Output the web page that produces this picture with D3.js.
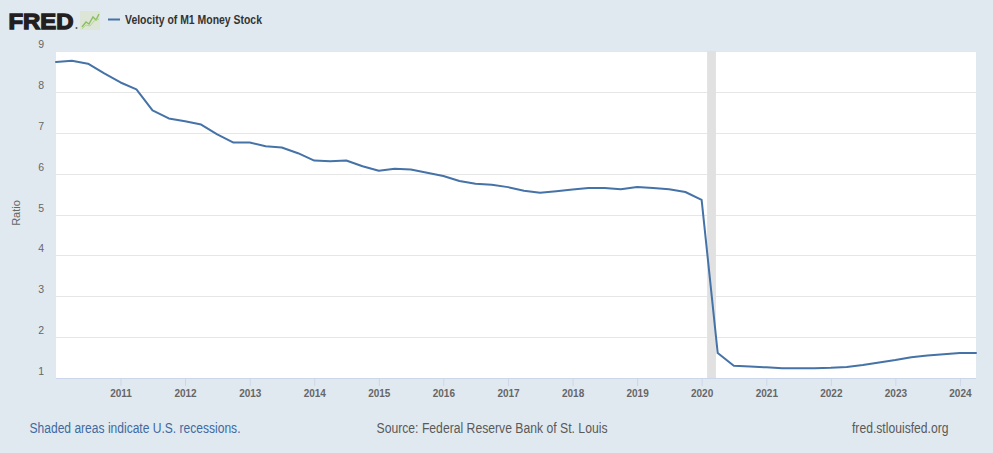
<!DOCTYPE html>
<html><head><meta charset="utf-8">
<script src="https://cdn.jsdelivr.net/npm/d3@7"></script>
<style>html,body{margin:0;padding:0;background:#e1e9f0;} svg{display:block;font-family:"Liberation Sans",Arial,sans-serif;}</style>
</head><body><svg id="c" width="993" height="453"></svg>
<script>
const quarters = [
"2010-01-01","2010-04-01","2010-07-01","2010-10-01",
"2011-01-01","2011-04-01","2011-07-01","2011-10-01",
"2012-01-01","2012-04-01","2012-07-01","2012-10-01",
"2013-01-01","2013-04-01","2013-07-01","2013-10-01",
"2014-01-01","2014-04-01","2014-07-01","2014-10-01",
"2015-01-01","2015-04-01","2015-07-01","2015-10-01",
"2016-01-01","2016-04-01","2016-07-01","2016-10-01",
"2017-01-01","2017-04-01","2017-07-01","2017-10-01",
"2018-01-01","2018-04-01","2018-07-01","2018-10-01",
"2019-01-01","2019-04-01","2019-07-01","2019-10-01",
"2020-01-01","2020-04-01","2020-07-01","2020-10-01",
"2021-01-01","2021-04-01","2021-07-01","2021-10-01",
"2022-01-01","2022-04-01","2022-07-01","2022-10-01",
"2023-01-01","2023-04-01","2023-07-01","2023-10-01",
"2024-01-01","2024-04-01"];
const velocity = [
8.73, 8.76, 8.69, 8.45,
8.23, 8.06, 7.55, 7.35,
7.28, 7.20, 6.96, 6.76,
6.76, 6.67, 6.64, 6.50,
6.32, 6.30, 6.32, 6.18,
6.07, 6.12, 6.10, 6.02,
5.94, 5.82, 5.75, 5.73,
5.67, 5.58, 5.53, 5.57,
5.61, 5.65, 5.65, 5.62,
5.67, 5.65, 5.62, 5.55,
5.36, 1.61, 1.30, 1.28,
1.26, 1.24, 1.24, 1.24,
1.25, 1.27, 1.32, 1.38,
1.44, 1.51, 1.55, 1.58,
1.61, 1.61];
const yTicks = [1,2,3,4,5,6,7,8,9];
const xTickYears = [2011,2012,2013,2014,2015,2016,2017,2018,2019,2020,2021,2022,2023,2024];
const recessionStart = "2020-02-01";
const recessionEnd = "2020-03-22";
const seriesName = "Velocity of M1 Money Stock";
const yAxisTitle = "Ratio";

const parse = d3.timeParse("%Y-%m-%d");
const data = quarters.map((q,i)=>({date: parse(q), v: velocity[i]}));

const svg = d3.select("#c");
const W = 993, H = 453;
const L = 56, R = 976, T = 51, B = 378;

svg.append("rect").attr("width",W).attr("height",H).attr("fill","#e1e9f0");

const x = d3.scaleTime().domain([data[0].date, data[data.length-1].date]).range([L,R]);
const y = d3.scaleLinear().domain([1,9]).range([B,T]);

svg.append("rect").attr("x",L).attr("y",T).attr("width",R-L).attr("height",B-T).attr("fill","#ffffff");

// gridlines
svg.append("g").selectAll("line").data(yTicks.filter(t=>t>1)).join("line")
  .attr("x1",L).attr("x2",R).attr("y1",d=>Math.round(y(d))+0.5).attr("y2",d=>Math.round(y(d))+0.5)
  .attr("stroke","#e6e6e6").attr("stroke-width",1);

// recession
svg.append("rect").attr("x",x(parse(recessionStart))).attr("y",T)
  .attr("width",x(parse(recessionEnd))-x(parse(recessionStart))).attr("height",B-T)
  .attr("fill","#e1e1e1");

// y labels
svg.append("g").selectAll("text").data(yTicks).join("text")
  .attr("x",44).attr("y",d=>y(d)-3).attr("text-anchor","end")
  .attr("font-size",10.5).attr("fill","#666").text(d=>d);

svg.append("text").attr("transform","translate(20,213) rotate(-90)")
  .attr("text-anchor","middle").attr("font-size",11).attr("fill","#666").text(yAxisTitle);

// x axis
const xAxis = d3.axisBottom(x).tickValues(xTickYears.map(yv=>new Date(yv,0,1)))
  .tickFormat(d3.timeFormat("%Y")).tickSize(8).tickSizeOuter(0);
const gx = svg.append("g").attr("transform",`translate(0,${B})`).call(xAxis);
gx.select(".domain").attr("stroke","#ccd6eb").attr("d",`M${L},0.5H${R}`);
gx.selectAll(".tick line").attr("stroke","#ccd6eb");
gx.selectAll(".tick text").attr("y",19).attr("dy",0).attr("font-size",10).attr("font-weight","bold")
  .attr("fill","#666").attr("font-family","Liberation Sans, Arial, sans-serif");

// line
svg.append("path").datum(data)
  .attr("d",d3.line().x(d=>x(d.date)).y(d=>y(d.v)))
  .attr("fill","none").attr("stroke","#4572a7").attr("stroke-width",2)
  .attr("stroke-linejoin","round").attr("stroke-linecap","round");

// header: FRED logo
svg.append("text").attr("x",8.5).attr("y",28.5).attr("font-size",22).attr("font-weight","bold")
  .attr("fill","#231f20").attr("stroke","#231f20").attr("stroke-width",1.3)
  .attr("textLength",65).attr("lengthAdjust","spacingAndGlyphs").text("FRED");
svg.append("circle").attr("cx",76.5).attr("cy",28).attr("r",1).attr("fill","#555");
const icon = svg.append("g").attr("transform","translate(80,11)");
icon.append("rect").attr("width",20).attr("height",19).attr("fill","#dde6d6");
icon.append("polyline").attr("points","2,16 6,11 9,13 13,6 16,9 19,3")
  .attr("fill","none").attr("stroke","#8cbf62").attr("stroke-width",1.5);
icon.append("polyline").attr("points","2,18 6,14 10,15 14,10 19,8")
  .attr("fill","none").attr("stroke","#b5d39a").attr("stroke-width",1);

// legend
svg.append("line").attr("x1",108).attr("x2",120).attr("y1",19.5).attr("y2",19.5)
  .attr("stroke","#4572a7").attr("stroke-width",2);
svg.append("text").attr("x",125).attr("y",24).attr("font-size",12.5).attr("font-weight","bold")
  .attr("fill","#333").attr("textLength",137).attr("lengthAdjust","spacingAndGlyphs").text(seriesName);

// footer
svg.append("text").attr("x",29.5).attr("y",433).attr("font-size",14).attr("fill","#3e6aa0")
  .attr("textLength",211).attr("lengthAdjust","spacingAndGlyphs").text("Shaded areas indicate U.S. recessions.");
svg.append("text").attr("x",376.5).attr("y",433).attr("font-size",14).attr("fill","#595959")
  .attr("textLength",231).attr("lengthAdjust","spacingAndGlyphs").text("Source: Federal Reserve Bank of St. Louis");
svg.append("text").attr("x",852).attr("y",433).attr("font-size",14).attr("fill","#595959")
  .attr("textLength",96.5).attr("lengthAdjust","spacingAndGlyphs").text("fred.stlouisfed.org");
</script></body></html>
